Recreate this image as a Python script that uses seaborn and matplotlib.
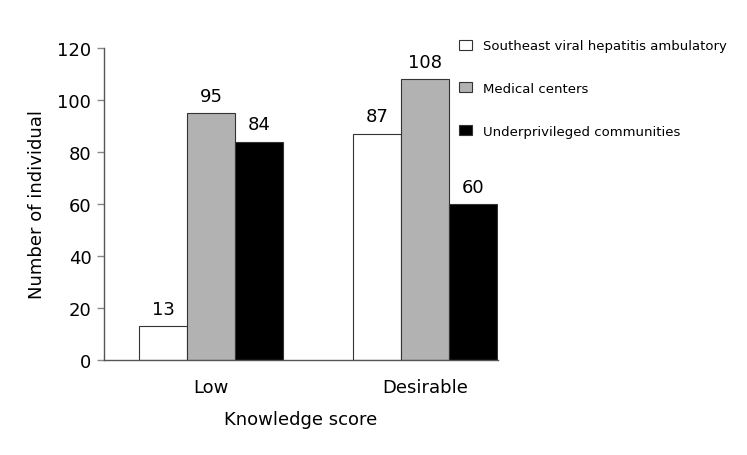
import numpy as np
import pandas as pd
import matplotlib
matplotlib.use("Agg")
import matplotlib.pyplot as plt
import seaborn as sns

scores = ["Low", "Desirable"]
groups = ["Southeast viral hepatitis ambulatory", "Medical centers", "Underprivileged communities"]
southeast = [13, 87]
medical = [95, 108]
underprivileged = [84, 60]
colors = ["#ffffff", "#b2b2b2", "#000000"]

df = pd.DataFrame({
    "score": scores * 3,
    "group": [groups[0]] * 2 + [groups[1]] * 2 + [groups[2]] * 2,
    "n": southeast + medical + underprivileged,
})

sns.set_style("white", {"text.color": "black", "axes.labelcolor": "black",
                        "xtick.color": "black", "ytick.color": "black"})
plt.rcParams["font.family"] = ["DejaVu Sans"]

fig = plt.figure(figsize=(7.47, 4.56), dpi=100)
ax = fig.add_axes([0.139, 0.208, 0.528, 0.685])

sns.barplot(data=df, x="score", y="n", hue="group", hue_order=groups,
            order=scores, palette=colors, edgecolor="#333333", linewidth=0.8,
            width=0.672, ax=ax, legend=True)

for c in ax.containers:
    ax.bar_label(c, padding=6, fontsize=13, color="black")

ax.set_ylim(0, 120)
ax.set_xlim(-0.5, 1.34)
ax.set_yticks(np.arange(0, 121, 20))
ax.tick_params(axis="y", labelsize=13, length=5, width=1, color="#888888",
               labelcolor="black", left=True, pad=4)
ax.tick_params(axis="x", labelsize=13, length=0, pad=13, labelcolor="black")
ax.set_xlabel("Knowledge score", fontsize=13, labelpad=10, color="black")
ax.set_ylabel("Number of individual", fontsize=13, labelpad=8, color="black")
for s in ["top", "right"]:
    ax.spines[s].set_visible(False)
for s in ["left", "bottom"]:
    ax.spines[s].set_color("#555555")
    ax.spines[s].set_linewidth(1)

handles, labels = ax.get_legend_handles_labels()
leg = ax.legend(handles, labels, loc="upper left", bbox_to_anchor=(0.598, 0.938),
                bbox_transform=fig.transFigure, frameon=False, fontsize=9.5,
                handlelength=1.0, handleheight=0.8, handletextpad=0.85, labelspacing=2.25)
for t in leg.get_texts():
    t.set_color("black")

fig.savefig("out.png", dpi=100)
